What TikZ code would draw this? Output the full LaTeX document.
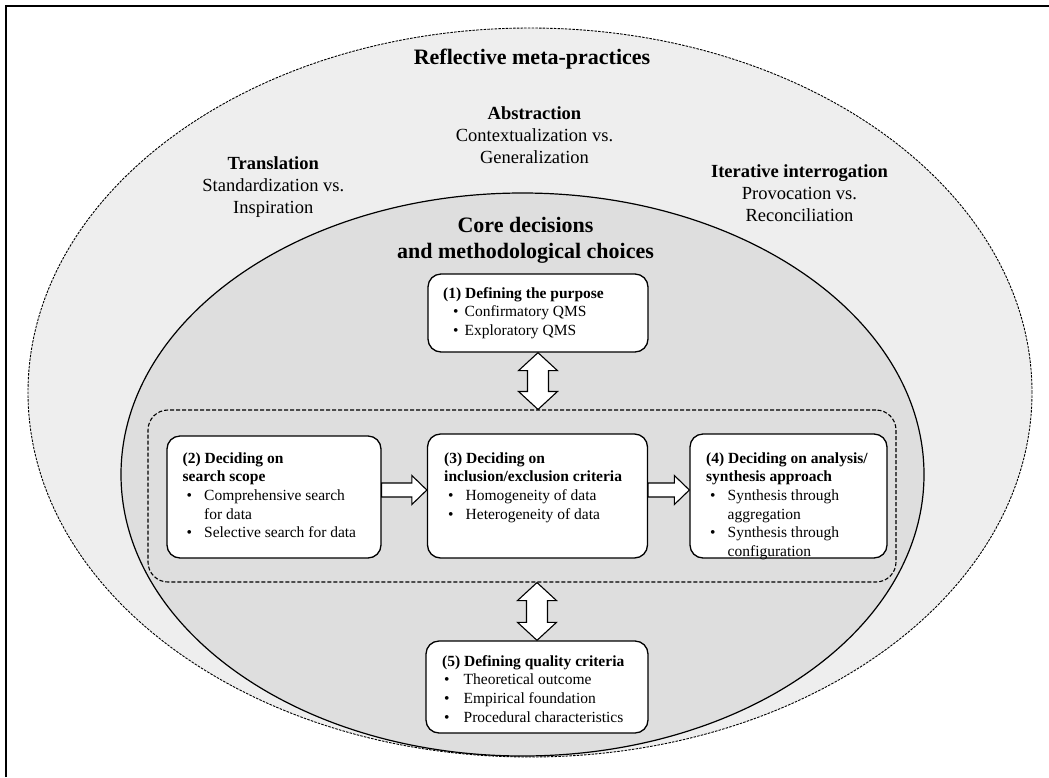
\documentclass[tikz,border=0pt]{standalone}
\usepackage{fontspec}
\setmainfont{Liberation Serif}
\usetikzlibrary{calc}
\definecolor{outerfill}{RGB}{238,238,238}
\definecolor{innerfill}{RGB}{222,222,222}
\newcommand\bul[1][4pt]{\makebox[21.5pt][l]{\hspace*{#1}\textbullet}}
\newcommand\ind{\hspace*{21.5pt}}
\newcommand\harrow[2]{%
  \draw[blockarrow] let \p1=(#1), \p2=(#2) in
    (\x1,\y1+7pt) -- (\x2-15pt,\y1+7pt) -- (\x2-15pt,\y1+14.5pt) -- (\x2,\y1)
    -- (\x2-15pt,\y1-14.5pt) -- (\x2-15pt,\y1-7pt) -- (\x1,\y1-7pt) -- cycle;}
\newcommand\vdarrow[2]{%
  \draw[blockarrow] let \p1=(#1), \p2=(#2) in
    (\x1,\y1) -- (\x1+19.5pt,\y1-18pt) -- (\x1+10.5pt,\y1-18pt) -- (\x1+10.5pt,\y2+18pt)
    -- (\x1+19.5pt,\y2+18pt) -- (\x1,\y2) -- (\x1-19.5pt,\y2+18pt) -- (\x1-10.5pt,\y2+18pt)
    -- (\x1-10.5pt,\y1-18pt) -- (\x1-19.5pt,\y1-18pt) -- cycle;}
\begin{document}
\begin{tikzpicture}[x=1pt,y=-1pt,
  box/.style={draw, fill=white, rounded corners=13pt, line width=1.3pt, inner sep=0},
  boxtext/.style={anchor=north west, inner sep=0, align=left, font=\fontsize{15.5}{18.6}\selectfont},
  blockarrow/.style={draw, fill=white, line width=1.1pt, line join=miter},
  heading/.style={anchor=north, align=center, inner sep=0, font=\fontsize{18.5}{22}\selectfont},
]
\useasboundingbox (0,0) rectangle (1049,777);
% frame
\draw[line width=2pt] (6,777) -- (6,6) -- (1049,6);
% ellipses
\filldraw[fill=outerfill, draw=black, line width=0.9pt, dash pattern=on 2.5pt off 1.2pt]
  (530,392.5) ellipse [x radius=502pt, y radius=364.5pt];
\filldraw[fill=innerfill, draw=black, line width=1.2pt]
  (522.5,474.5) ellipse [x radius=401.5pt, y radius=281.5pt];
% dashed group
\node[draw, dash pattern=on 4pt off 2pt, line width=1.1pt, rounded corners=20pt,
  minimum width=748pt, minimum height=172pt, inner sep=0] (dr) at (522,496) {};
% boxes
\node[box, minimum width=220pt, minimum height=78pt] (b1) at (538,313) {};
\node[box, minimum width=214pt, minimum height=122pt] (b2) at (274,497) {};
\node[box, minimum width=220pt, minimum height=124pt] (b3) at (537.5,496) {};
\node[box, minimum width=197pt, minimum height=124pt] (b4) at (788.5,496) {};
\node[box, minimum width=222pt, minimum height=92pt] (b5) at (537,687) {};
% arrows
\harrow{[yshift=7pt]b2.east}{[yshift=7pt]b3.west}
\harrow{[yshift=6pt]b3.east}{[yshift=6pt]b4.west}
\vdarrow{b1.south}{b1.south |- dr.north}
\vdarrow{b5.north |- dr.south}{b5.north}
% headings
\node[font=\fontsize{22}{26.5}\selectfont\bfseries, anchor=base, inner sep=0] (title) at (532,64.5) {Reflective meta-practices};
\node[heading] (abs) at (534.5,103.9) {\strut\textbf{Abstraction}\\Contextualization vs.\\Generalization};
\node[heading] (trans) at (273.3,153.6) {\strut\textbf{Translation}\\Standardization vs.\\Inspiration};
\node[heading] (iter) at (799.5,161.6) {\strut\textbf{Iterative interrogation}\\Provocation vs.\\Reconciliation};
\node[font=\fontsize{22}{26.5}\selectfont\bfseries, align=center, inner sep=0, anchor=north] (core) at (525.5,213.5) {\strut Core decisions\\and methodological choices};
% box texts
\node[boxtext] (t1) at (443,285) {\strut\textbf{(1) Defining the purpose}\\\bul[10pt]Confirmatory QMS\\\bul[10pt]Exploratory QMS};
\node[boxtext] (t2) at (182.5,450) {\strut\textbf{(2) Deciding on}\\\textbf{search scope}\\\bul Comprehensive search\\\ind for data\\\bul Selective search for data};
\node[boxtext] (t3) at (444,450) {\strut\textbf{(3) Deciding on}\\\textbf{inclusion/exclusion criteria}\\\bul Homogeneity of data\\\bul Heterogeneity of data};
\node[boxtext] (t4) at (706,450) {\strut\textbf{(4) Deciding on analysis/}\\\textbf{synthesis approach}\\\bul Synthesis through\\\ind aggregation\\\bul Synthesis through\\\ind configuration};
\node[boxtext] (t5) at (442,653) {\strut\textbf{(5) Defining quality criteria}\\\bul[2pt]Theoretical outcome\\\bul[2pt]Empirical foundation\\\bul[2pt]Procedural characteristics};
\end{tikzpicture}
\end{document}
